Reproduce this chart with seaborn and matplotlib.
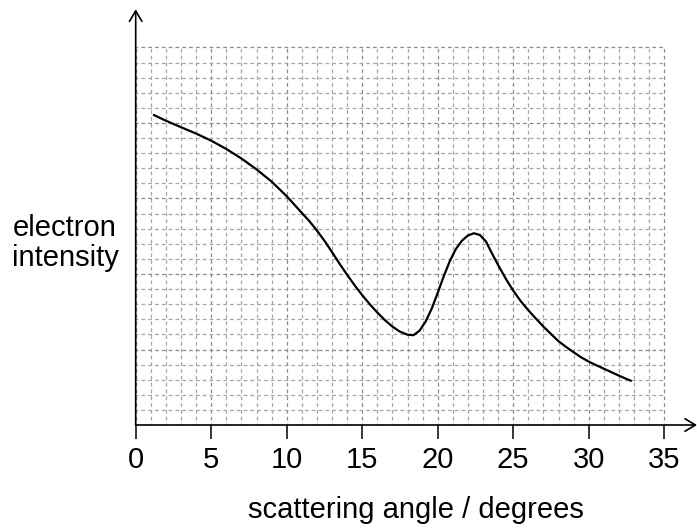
import matplotlib
matplotlib.use("Agg")
import matplotlib.pyplot as plt
import numpy as np
import seaborn as sns

sns.set_theme(style="white")
plt.rcParams['font.family'] = ['Liberation Sans', 'DejaVu Sans']

# values (one grid square = 1 degree / 1 unit)
angle = [1.2, 2, 3, 4, 5, 6, 7, 8, 9, 10, 10.5, 11, 11.5, 12, 12.5, 13, 13.5,
         14, 14.5, 15, 15.5, 16, 16.5, 17, 17.5, 18, 18.4, 18.8, 19.2, 19.6,
         20, 20.4, 20.8, 21.2, 21.6, 22, 22.4, 22.8, 23.2, 23.6, 24, 24.5, 25,
         25.5, 26, 26.5, 27, 27.5, 28, 28.5, 29, 29.5, 30, 30.5, 31, 31.5, 32,
         32.5, 32.8]
intensity = [20.53, 20.15, 19.72, 19.3, 18.83, 18.28, 17.65, 16.93, 16.12,
             15.15, 14.6, 14.05, 13.5, 12.88, 12.2, 11.45, 10.68, 9.95, 9.25,
             8.6, 8.0, 7.45, 6.95, 6.52, 6.18, 5.98, 5.95, 6.25, 6.85, 7.7,
             8.75, 9.85, 10.85, 11.65, 12.2, 12.55, 12.7, 12.58, 12.15, 11.35,
             10.6, 9.7, 8.9, 8.2, 7.6, 7.05, 6.52, 6.03, 5.55, 5.17, 4.82,
             4.48, 4.2, 3.96, 3.73, 3.5, 3.27, 3.05, 2.93]
x_ticks = [0, 5, 10, 15, 20, 25, 30, 35]
grid_x_max = 35
grid_y_max = 25

fig = plt.figure(figsize=(6.97, 5.29), dpi=100)
ax = fig.add_axes([135.7 / 697, 104 / 529, 561.3 / 697, 415.7 / 529])
ax.set_xlim(0, 561.3 / 15.1)
ax.set_ylim(0, 415.7 / 15.1)

# dashed graph-paper grid
dash = (1.5, (3.0, 2.45))
for gx in range(0, grid_x_max + 1):
    col = '#8a8a8a' if gx % 5 == 0 else '#a6a6a6'
    ax.vlines(gx, 0, grid_y_max, colors=col, linewidth=0.9, linestyles=[dash], zorder=1)
for gy in range(1, grid_y_max + 1):
    col = '#8a8a8a' if gy % 5 == 0 else '#a6a6a6'
    ax.hlines(gy, 0, grid_x_max, colors=col, linewidth=0.9, linestyles=[dash], zorder=1)

sns.lineplot(x=angle, y=intensity, ax=ax, color='black', linewidth=1.6, zorder=3)

# axes drawn as arrows
arrow = dict(arrowstyle='->,head_length=0.5,head_width=0.3', mutation_scale=15,
             lw=1.2, color='black', shrinkA=0, shrinkB=0)
ax.annotate('', xy=(1, 0), xytext=(0, 0), xycoords='axes fraction', arrowprops=arrow, zorder=4)
ax.annotate('', xy=(0, 1), xytext=(0, 0), xycoords='axes fraction', arrowprops=arrow, zorder=4)

for s in ax.spines.values():
    s.set_visible(False)
ax.set_xticks(x_ticks)
ax.set_yticks([])
ax.tick_params(axis='x', bottom=True, direction='out', length=10, width=1.1,
               pad=5, labelsize=21, color='black', labelcolor='black')

ax.set_xlabel('scattering angle / degrees', fontsize=21, color='black')
ax.xaxis.set_label_coords(0.5, -0.2237)
ax.xaxis.label.set_va('baseline')

fig.text(65 / 697, 1 - 243 / 529, 'electron\nintensity', ha='center', va='center',
         fontsize=21, linespacing=1.05, color='black')

fig.savefig('out.png', dpi=100)
